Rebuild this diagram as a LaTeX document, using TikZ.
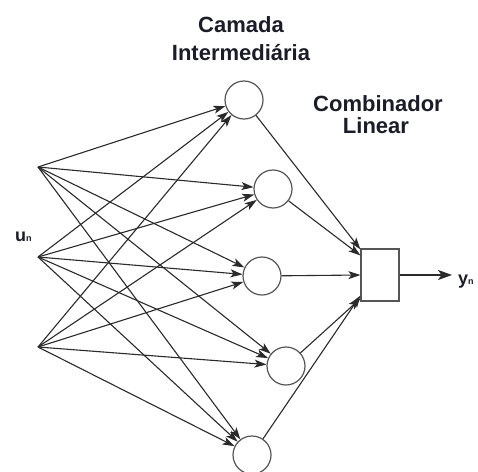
\documentclass[tikz,border=0pt]{standalone}
\usepackage{fontspec}
\setmainfont{Liberation Sans}
\usetikzlibrary{arrows.meta}
\definecolor{linecol}{HTML}{2A2A2A}
\definecolor{shapecol}{HTML}{555555}
\definecolor{textcol}{HTML}{1C1C28}
\tikzset{
  neuron/.style={circle, draw=shapecol, line width=1.2pt, minimum size=38pt, inner sep=0pt, fill=white},
  combbox/.style={rectangle, draw=shapecol, line width=1.2pt, minimum width=38pt, minimum height=52pt, inner sep=0pt},
  title/.style={font=\fontsize{22}{26}\selectfont\bfseries, text=textcol, anchor=base, inner sep=0pt},
  varlabel/.style={font=\fontsize{18}{18}\selectfont\bfseries, text=textcol, anchor=base west, inner sep=0pt},
  conn/.style={draw=linecol, line width=1.1pt, -{Stealth[length=12pt,width=8pt,inset=3pt]}},
}
\begin{document}
\begin{tikzpicture}[x=1pt,y=-1pt]
\useasboundingbox (0,0) rectangle (478,471);
% inputs
\coordinate (i1) at (38,167);
\coordinate (i2) at (38,257);
\coordinate (i3) at (38,347);
% hidden layer
\node[neuron] (h1) at (244,100) {};
\node[neuron] (h2) at (273,189) {};
\node[neuron] (h3) at (262,276) {};
\node[neuron] (h4) at (286,366) {};
\node[neuron] (h5) at (252,455) {};
% combiner
\node[combbox] (box) at (380,275) {};
\coordinate (out) at (452,275);
% labels
\node[title] (t1) at (241,32) {Camada};
\node[title] (t2) at (241,60) {Intermediária};
\node[title] (t3) at (378,111) {Combinador};
\node[title] (t4) at (376,133) {Linear};
\node[varlabel] (u) at (15,241) {u{\fontsize{9}{9}\selectfont n}};
\node[varlabel] (y) at (458,284) {y{\fontsize{9}{9}\selectfont n}};
% connections input -> hidden
\foreach \i in {i1,i2,i3}{
  \foreach \h in {h1,h2,h3,h4,h5}{
    \draw[conn] (\i) -- (\h);
  }
}
% hidden -> combiner
\draw[conn] (h1) -- ([yshift=-1pt]box.north west);
\draw[conn] (h2) -- ([yshift=-7pt]box.north west);
\draw[conn] (h3) -- (box.west);
\draw[conn] (h4) -- ([yshift=3pt]box.south west);
\draw[conn] (h5) -- ([yshift=6pt]box.south west);
% output
\draw[draw=linecol, line width=1.1pt, -{Stealth[length=14pt,width=10pt,inset=3.5pt]}] (box.east) -- (out);
\end{tikzpicture}
\end{document}
